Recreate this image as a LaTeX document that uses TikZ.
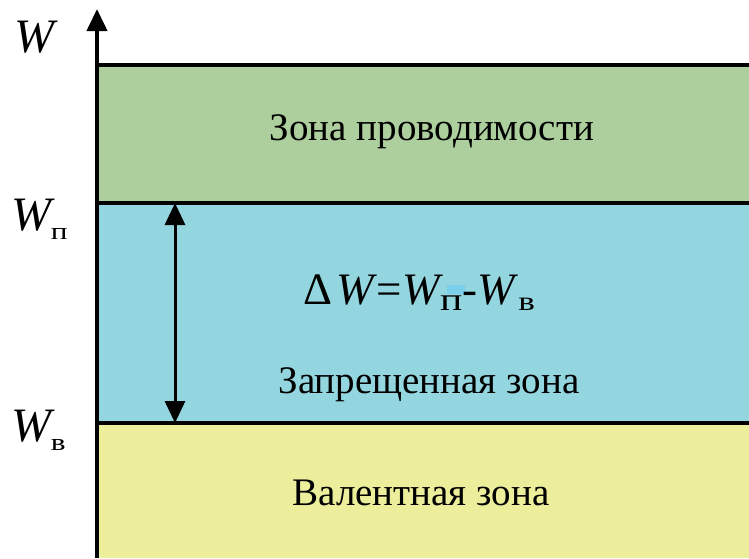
\documentclass[tikz,border=0pt]{standalone}
\usepackage{fontspec}
\setmainfont{Liberation Serif}[Ligatures=TeX]
\newfontfamily\tnr{Liberation Serif}
\usetikzlibrary{arrows.meta}
\definecolor{cband}{HTML}{ADCE9D}
\definecolor{gband}{HTML}{94D6DF}
\definecolor{vband}{HTML}{EDEE9B}
\definecolor{patch}{HTML}{7ACFEA}
\newcommand{\lab}[4]{\textit{W}\kern#4\raisebox{#3}{\fontsize{#2}{#2}\selectfont\scalebox{1.3}[1]{#1}}}
\tikzset{
  band/.style={draw=none},
  edge/.style={line width=4pt},
  bigtxt/.style={font=\tnr\fontsize{39}{42}\selectfont, inner sep=0pt, anchor=base},
  wlab/.style={font=\tnr\fontsize{48}{52}\selectfont, inner sep=0pt, anchor=base west},
  tip/.style={-{Triangle[length=22pt,width=20pt]}}
}
\begin{document}
\begin{tikzpicture}[x=1pt,y=-1pt]
\useasboundingbox (0,0) rectangle (749,558);
% bands
\fill[cband] (97,65) rectangle (749,203);
\fill[gband] (97,203) rectangle (749,423);
\fill[vband] (97,423) rectangle (749,558);
\draw[edge] (97,65) -- (749,65);
\draw[edge] (97,203) -- (749,203);
\draw[edge] (97,423) -- (749,423);
% axis
\coordinate (axb) at (97,558);
\coordinate (axt) at (97,9);
\draw[line width=4pt, tip] (axb) -- (axt);
% gap arrow
\coordinate (gt) at (175,203);
\coordinate (gb) at (175,423);
\draw[line width=3pt, {Triangle[length=22pt,width=20pt]}-{Triangle[length=22pt,width=20pt]}] (gt) -- (gb);
% labels
\node[wlab] (w) at (14,52) {\textit{W}};
\node[wlab] (wp) at (11,230) {\lab{п}{24}{-9pt}{-4pt}};
\node[wlab] (wv) at (11,441) {\lab{в}{24}{-9pt}{-4pt}};
% texts
\node[bigtxt] (t1) at (432,140) {Зона проводимости};
\fill[patch] (447,285) rectangle (465,294);
\node[font=\tnr\fontsize{45}{48}\selectfont, inner sep=0pt, anchor=base] (f) at (419,304) {Δ\kern4pt\textit{W}=\lab{п}{32}{-6pt}{-3pt}-\lab{в}{27}{-6pt}{0pt}};
\node[bigtxt] (t2) at (429,393) {Запрещенная зона};
\node[bigtxt] (t3) at (421,505) {Валентная зона};
\end{tikzpicture}
\end{document}
